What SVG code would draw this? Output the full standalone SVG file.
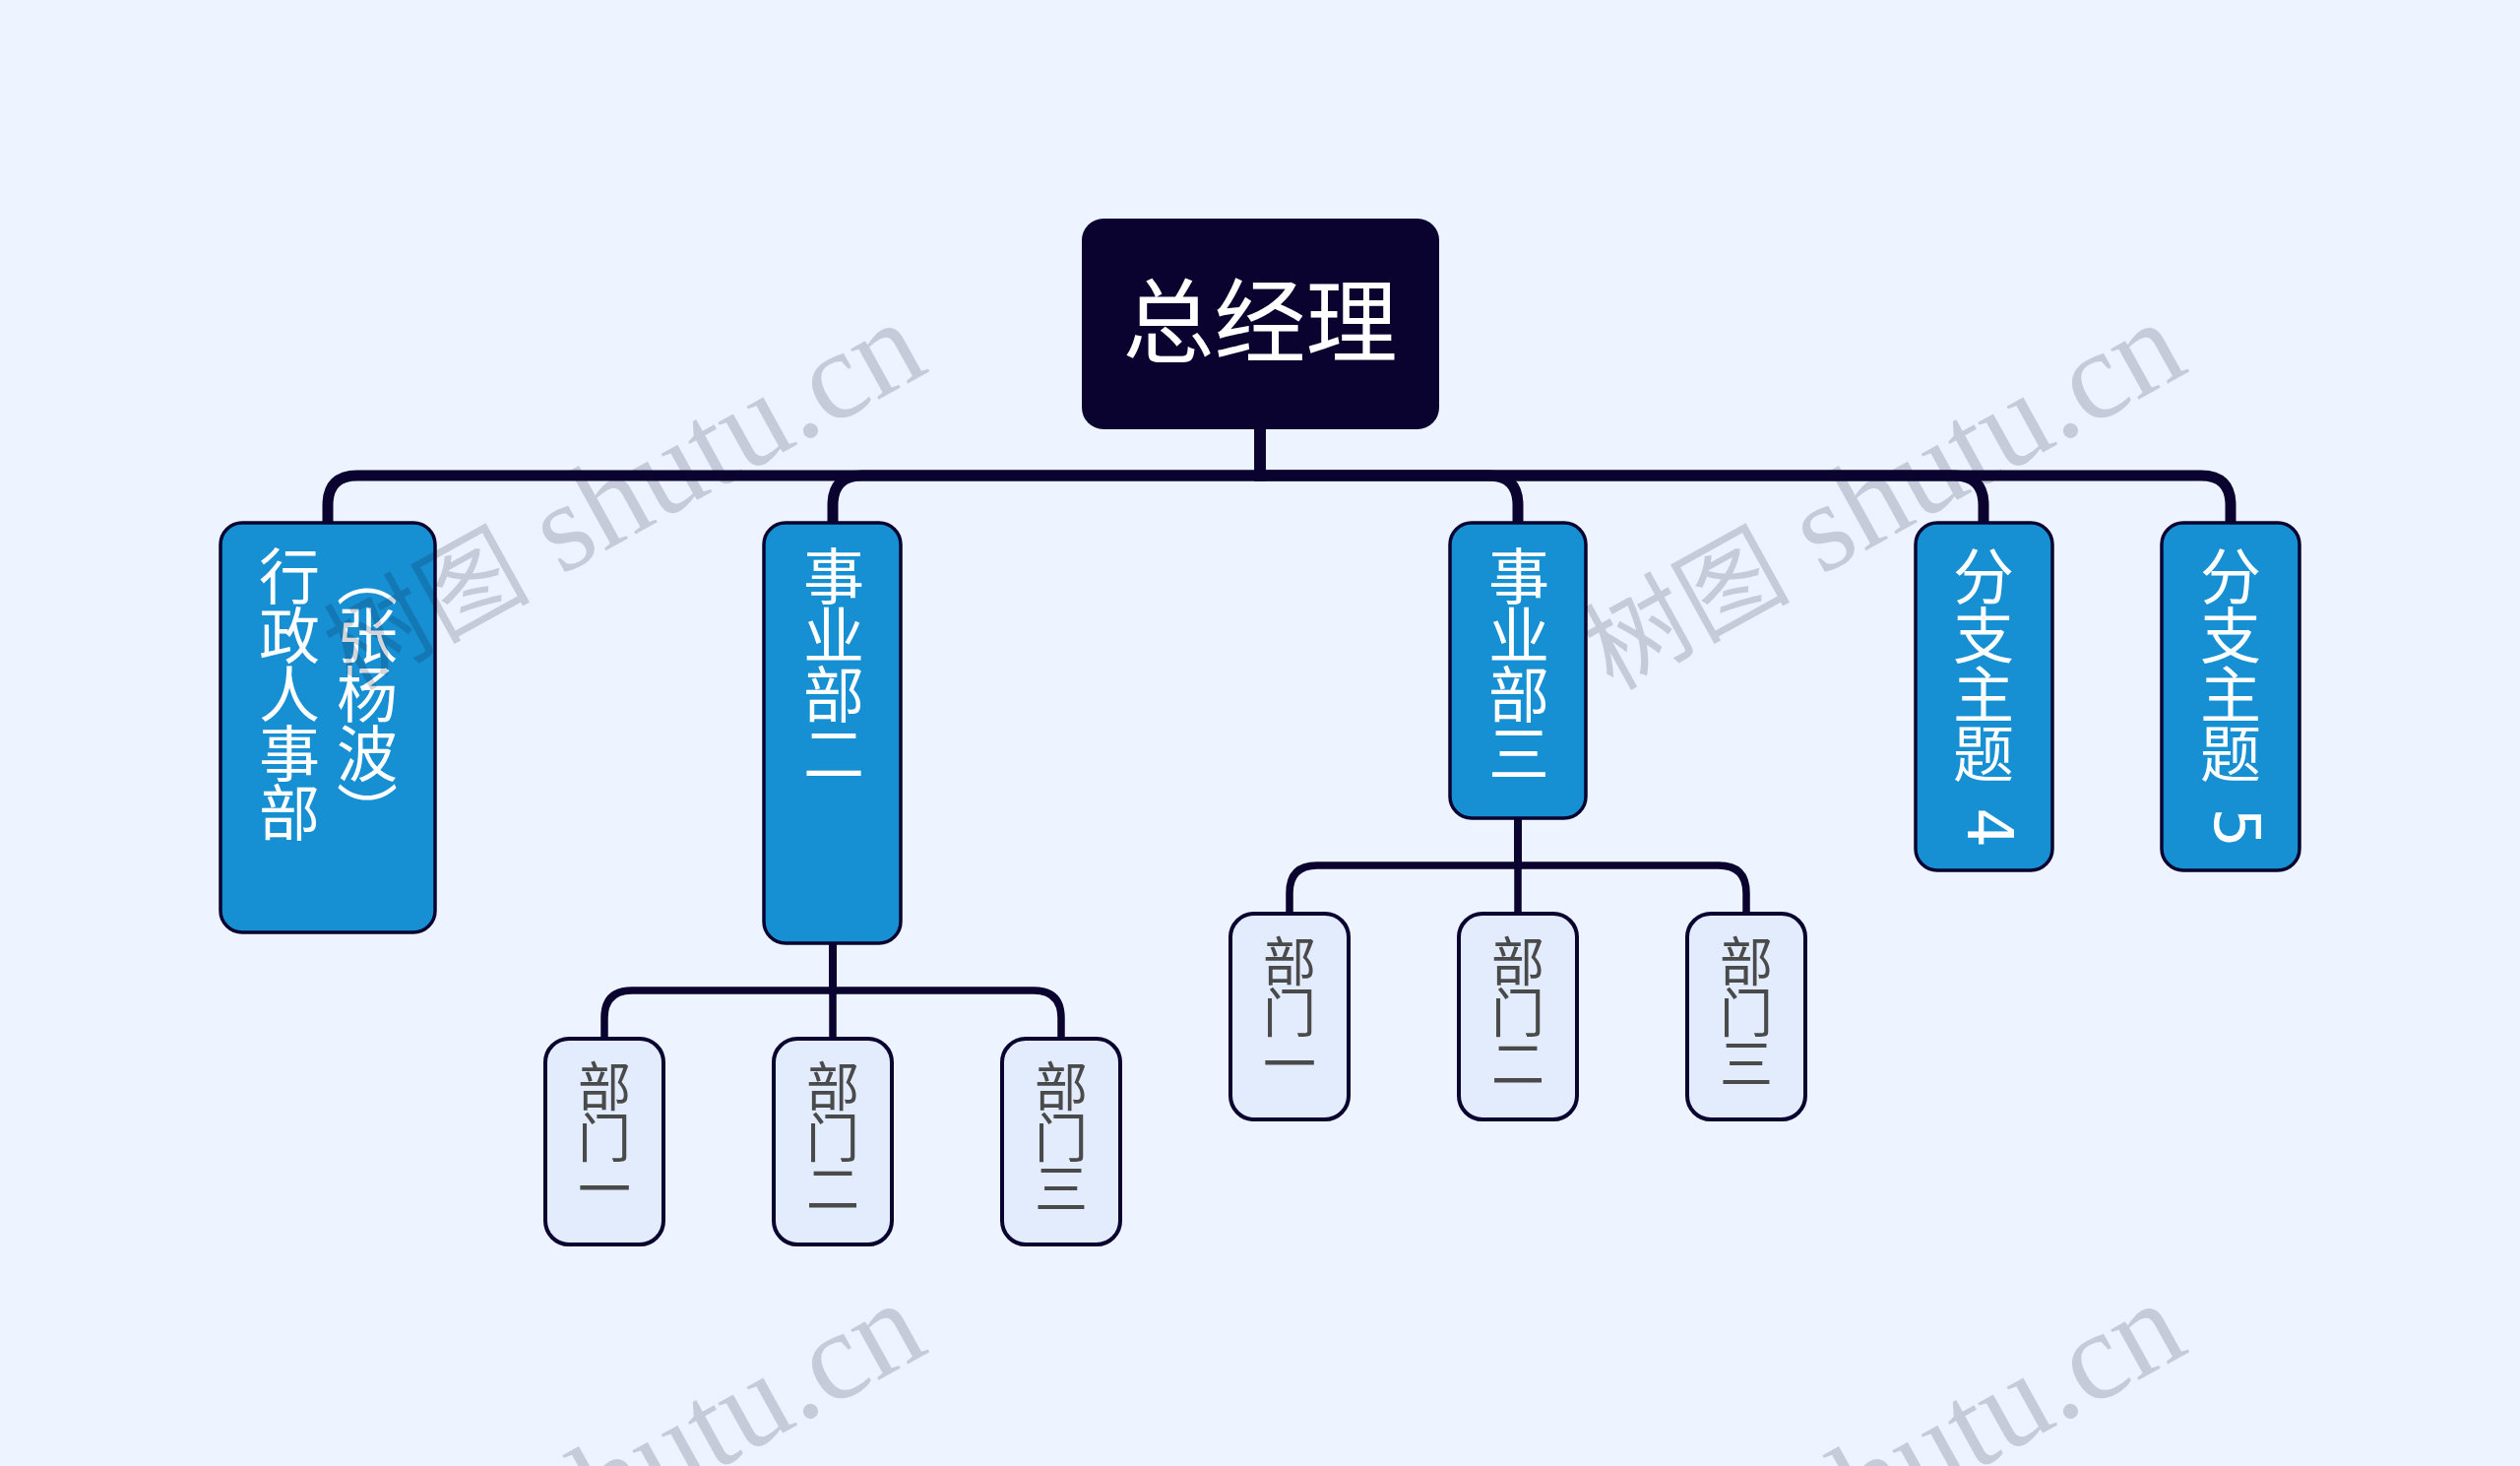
<svg xmlns="http://www.w3.org/2000/svg" width="2560" height="1489" viewBox="0 0 2560 1489">
<style>
text{font-family:"Noto Sans CJK SC","Noto Sans",sans-serif}
.b{fill:#1790d3;stroke:#0a0330;stroke-width:3.5}
.c{fill:#e2ecfd;stroke:#0a0330;stroke-width:4}
.vb{writing-mode:vertical-rl;font-size:62px;letter-spacing:-2px;fill:#fff;white-space:pre}
.vc{writing-mode:vertical-rl;font-size:54px;letter-spacing:-2px;fill:#4a4a4a}
.dg{font-family:"DejaVu Sans",sans-serif;font-size:64px;letter-spacing:0}
.l1{fill:none;stroke:#0a0330;stroke-width:11}
.l2{fill:none;stroke:#0a0330;stroke-width:7.5}
.wm{font-family:"Liberation Serif","Noto Sans CJK SC",serif;font-size:128px;fill:#0a0a28;fill-opacity:.176}
.wc{font-family:"Noto Sans CJK SC",sans-serif;font-size:105px}
</style>
<rect width="2560" height="1489" fill="#edf4ff"/>
<g id="connectors">
<path class="l1" d="M1280 436V483H363Q333 483 333 513V532"/>
<path class="l1" d="M1280 436V483H876Q846 483 846 513V532"/>
<path class="l1" d="M1280 436V483H1512Q1542 483 1542 513V532"/>
<path class="l1" d="M1280 436V483H1985Q2015 483 2015 513V532"/>
<path class="l1" d="M1280 436V483H2236Q2266 483 2266 513V532"/>
<path class="l2" d="M846 959V1006H642Q614 1006 614 1034V1056"/>
<path class="l2" d="M846 959V1056"/>
<path class="l2" d="M846 959V1006H1050Q1078 1006 1078 1034V1056"/>
<path class="l2" d="M1542 832V879H1338Q1310 879 1310 907V929"/>
<path class="l2" d="M1542 832V929"/>
<path class="l2" d="M1542 832V879H1746Q1774 879 1774 907V929"/>
</g>
<g id="root"><rect x="1099" y="222" width="363" height="214" rx="22" fill="#0a0330"/><text x="1280" y="361" text-anchor="middle" font-size="93" fill="#fff">总经理</text></g>
<g id="n1"><rect class="b" x="224" y="531" width="218" height="416" rx="22"/><text class="vb" x="294" y="554">行政人事部</text><text class="vb" x="373" y="554">（张杨波）</text></g>
<g id="n2"><rect class="b" x="776" y="531" width="139" height="427" rx="22"/><text class="vb" x="847" y="554">事业部二</text></g>
<g id="n3"><rect class="b" x="1473" y="531" width="138" height="300" rx="22"/><text class="vb" x="1543" y="554">事业部三</text></g>
<g id="n4"><rect class="b" x="1946" y="531" width="139" height="353" rx="22"/><text class="vb" x="2015" y="554">分支主题<tspan class="dg" dx="6" dy="6"> 4</tspan></text></g>
<g id="n5"><rect class="b" x="2196" y="531" width="140" height="353" rx="22"/><text class="vb" x="2266" y="554">分支主题<tspan class="dg" dx="6" dy="6"> 5</tspan></text></g>
<g id="n2a"><rect class="c" x="554" y="1055" width="120" height="209" rx="24"/><text class="vc" x="614" y="1076">部门一</text></g>
<g id="n2b"><rect class="c" x="786" y="1055" width="120" height="209" rx="24"/><text class="vc" x="846" y="1076">部门二</text></g>
<g id="n2c"><rect class="c" x="1018" y="1055" width="120" height="209" rx="24"/><text class="vc" x="1078" y="1076">部门三</text></g>
<g id="n3a"><rect class="c" x="1250" y="928" width="120" height="209" rx="24"/><text class="vc" x="1310" y="949">部门一</text></g>
<g id="n3b"><rect class="c" x="1482" y="928" width="120" height="209" rx="24"/><text class="vc" x="1542" y="949">部门二</text></g>
<g id="n3c"><rect class="c" x="1714" y="928" width="120" height="209" rx="24"/><text class="vc" x="1774" y="949">部门三</text></g>
<g id="watermark">
<text class="wm" transform="translate(358 702) rotate(-29)"><tspan class="wc">树图</tspan> shutu.cn</text>
<text class="wm" transform="translate(1638 702) rotate(-29)"><tspan class="wc">树图</tspan> shutu.cn</text>
<text class="wm" transform="translate(358 1698) rotate(-29)"><tspan class="wc">树图</tspan> shutu.cn</text>
<text class="wm" transform="translate(1638 1698) rotate(-29)"><tspan class="wc">树图</tspan> shutu.cn</text>
</g>
</svg>
